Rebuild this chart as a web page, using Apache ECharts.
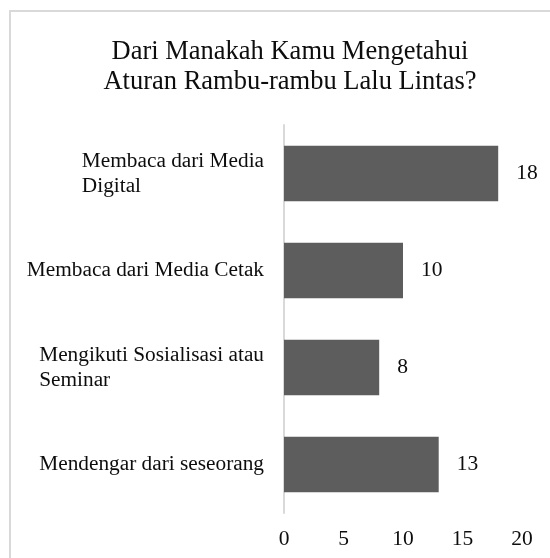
<!DOCTYPE html>
<html>
<head>
<meta charset="utf-8">
<script src="https://cdn.jsdelivr.net/npm/echarts@6/dist/echarts.min.js"></script>
<style>
  html, body { margin: 0; padding: 0; background: #fff; }
  #chart { width: 550px; height: 558px; }
</style>
</head>
<body>
<div id="chart"></div>
<script>
// Sources of traffic-sign knowledge, top to bottom
const categories = [
  'Membaca dari Media\nDigital',
  'Membaca dari Media Cetak',
  'Mengikuti Sosialisasi atau\nSeminar',
  'Mendengar dari seseorang'
];
const counts = [18, 10, 8, 13];
const tickValues = [0, 5, 10, 15, 20];

const FONT = '"Liberation Serif", "Times New Roman", serif';
const TEXT = '#0d0d0d';

const chart = echarts.init(document.getElementById('chart'), null, { renderer: 'canvas' });

chart.setOption({
  backgroundColor: '#ffffff',
  animation: false,
  graphic: [{
    type: 'rect',
    shape: { x: 10, y: 11, width: 600, height: 600 },
    style: { fill: 'none', stroke: '#d9d9d9', lineWidth: 2 },
    silent: true
  }],
  title: {
    text: 'Dari Manakah Kamu Mengetahui\nAturan Rambu-rambu Lalu Lintas?',
    left: 285,
    top: 32,
    textAlign: 'center',
    textStyle: {
      fontFamily: FONT,
      fontSize: 26.5,
      fontWeight: 'normal',
      color: TEXT,
      lineHeight: 30
    }
  },
  grid: { left: 284, right: 28, top: 125, bottom: 45, containLabel: false },
  xAxis: {
    type: 'value',
    min: tickValues[0],
    max: tickValues[tickValues.length - 1],
    interval: 5,
    axisLine: { show: false },
    axisTick: { show: false },
    splitLine: { show: false },
    axisLabel: {
      margin: 15,
      fontFamily: FONT,
      fontSize: 21.5,
      color: TEXT
    }
  },
  yAxis: {
    type: 'category',
    inverse: true,
    data: categories,
    axisLine: { show: true, lineStyle: { color: '#d9d9d9', width: 2 } },
    axisTick: { show: false },
    axisLabel: {
      margin: 20,
      fontFamily: FONT,
      fontSize: 21.3,
      color: TEXT,
      lineHeight: 25,
      formatter: function (v) {
        return v.split('\n').map(function (line) { return '{l|' + line + '}'; }).join('\n');
      },
      rich: {
        l: { align: 'left', fontFamily: FONT, fontSize: 21.3, color: TEXT, lineHeight: 25 }
      }
    }
  },
  series: [{
    type: 'bar',
    data: counts,
    barWidth: '57%',
    itemStyle: { color: '#5d5d5d' },
    label: {
      show: true,
      position: 'right',
      distance: 18,
      fontFamily: FONT,
      fontSize: 21.5,
      color: TEXT
    }
  }]
});
</script>
</body>
</html>
